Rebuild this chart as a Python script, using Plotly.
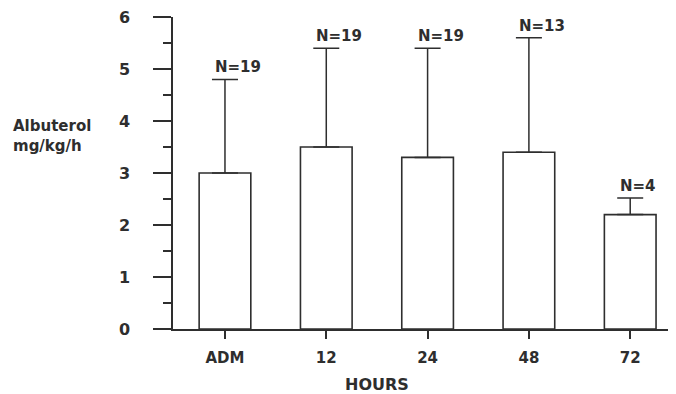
import plotly.graph_objects as go

categories = ["ADM", "12", "24", "48", "72"]
means = [3.0, 3.5, 3.3, 3.4, 2.2]
errors_up = [1.8, 1.9, 2.1, 2.2, 0.32]
n_counts = [19, 19, 19, 13, 4]
y_ticks = [0, 1, 2, 3, 4, 5, 6]

INK = "#2e2e2e"
FONT = "DejaVu Sans"

fig = go.Figure()
fig.add_trace(go.Bar(
    x=list(range(len(categories))),
    y=means,
    width=0.51,
    marker=dict(color="white", line=dict(color=INK, width=1.6)),
    error_y=dict(type="data", array=errors_up, arrayminus=[0] * len(means),
                 symmetric=False, color=INK, thickness=1.5, width=13),
    showlegend=False,
    hoverinfo="skip",
))

for i, (m, e, n) in enumerate(zip(means, errors_up, n_counts)):
    fig.add_annotation(
        x=i, y=m + e, xref="x", yref="y",
        text=f"<b>N={n}</b>", showarrow=False,
        xanchor="left", yanchor="middle", xshift=-12, yshift=12,
        font=dict(family=FONT, size=15, color=INK),
    )

fig.add_annotation(
    x=-0.322, y=0.618, xref="paper", yref="paper",
    text="<b>Albuterol<br>mg/kg/h</b>", showarrow=False,
    xanchor="left", yanchor="middle", align="left",
    font=dict(family=FONT, size=15, color=INK),
)
fig.add_annotation(
    x=0.4056, y=-0.178, xref="paper", yref="paper",
    text="<b>HOURS</b>", showarrow=False,
    xanchor="center", yanchor="middle",
    font=dict(family=FONT, size=16, color=INK),
)

# page body has an 8px margin; the figure is sized/offset to compensate
fig.update_layout(
    width=668, height=386,
    margin=dict(l=165, r=0, t=9, b=65, pad=0),
    paper_bgcolor="white", plot_bgcolor="white",
    bargap=0.49,
    xaxis=dict(
        range=[-0.513, 4.452],
        tickmode="array",
        tickvals=list(range(len(categories))),
        ticktext=[f"<b>{c}</b>" for c in categories],
        showline=True, linecolor=INK, linewidth=1.5,
        ticks="outside", ticklen=8, tickwidth=1.5, tickcolor=INK,
        showgrid=False, zeroline=False,
        tickfont=dict(family=FONT, size=15, color=INK),
        ticklabelstandoff=6,
        fixedrange=True,
    ),
    yaxis=dict(
        range=[0, 6],
        tickmode="array",
        tickvals=y_ticks,
        ticktext=[f"<b>{t}</b>" for t in y_ticks],
        showline=True, linecolor=INK, linewidth=1.5,
        ticks="outside", ticklen=18, tickwidth=1.5, tickcolor=INK,
        minor=dict(dtick=0.5, ticks="outside", ticklen=8, tickwidth=1.5, tickcolor=INK, showgrid=False),
        showgrid=False, zeroline=False,
        tickfont=dict(family=FONT, size=16, color=INK),
        ticklabelstandoff=20,
        ticklabeloverflow="allow",
        fixedrange=True,
    ),
)

fig.write_html("out.html")
